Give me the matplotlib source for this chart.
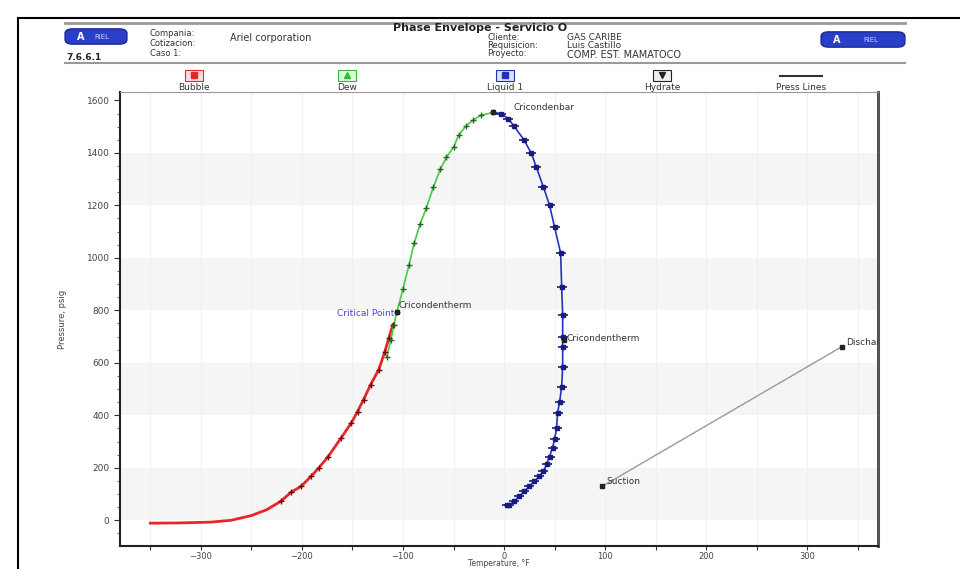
import matplotlib
matplotlib.use("Agg")
import matplotlib.pyplot as plt
from matplotlib.patches import Rectangle, FancyBboxPatch
from matplotlib.lines import Line2D

# ---------------- data ----------------
bubble_T = [-350, -320, -290, -270, -250, -235, -221, -211, -201, -191, -183, -174,
            -161, -151, -145, -139, -132, -124, -118, -114, -110]
bubble_P = [-11, -10, -7, 0, 18, 40, 72, 106, 129, 167, 201, 243,
            315, 372, 414, 460, 517, 574, 642, 695, 745]

dew_T = [-116, -112, -109, -106, -100, -94, -89, -83, -77, -70, -63, -57, -50, -45,
         -38, -31, -23, -11]
dew_P = [623, 688, 745, 794, 882, 973, 1056, 1129, 1189, 1269, 1338, 1383, 1421, 1467,
         1501, 1524, 1543, 1554]

liq_T = [-11, -3, 4, 10, 20, 27, 32, 39, 45, 50, 56, 57, 58, 58, 58, 58, 57, 55, 53,
         52, 50, 48, 45, 42, 39, 35, 30, 25, 20, 15, 10, 5, 3]
liq_P = [1554, 1550, 1531, 1501, 1448, 1398, 1345, 1269, 1201, 1117, 1018, 889, 783,
         699, 661, 585, 509, 452, 410, 353, 308, 277, 243, 213, 186, 167, 148, 129,
         110, 91, 72, 57, 57]

press_T = [97, 334]
press_P = [129, 661]

critical = (-106, 794)
cricondenbar = (-11, 1554)
cricondentherm = (59, 688)

xticks = [-300, -200, -100, 0, 100, 200, 300]
yticks = [0, 200, 400, 600, 800, 1000, 1200, 1400, 1600]

# ---------------- figure ----------------
W, H = 960, 569
fig = plt.figure(figsize=(W / 100, H / 100), dpi=100)
fig.patch.set_facecolor("white")


def fx(px):
    return px / W


def fy(py):
    return 1 - py / H


# outer border
fig.add_artist(Line2D([fx(18), fx(18)], [fy(18), fy(569)], color="black", lw=1.5))
fig.add_artist(Line2D([fx(18), fx(960)], [fy(18), fy(18)], color="black", lw=1.5))

# header lines
fig.add_artist(Line2D([fx(65), fx(905)], [fy(23), fy(23)], color="#999999", lw=2))
fig.add_artist(Line2D([fx(65), fx(905)], [fy(63), fy(63)], color="#999999", lw=1.5))

# logos
for (lx, ly, w) in [(67, 30, 58), (823, 33, 80)]:
    fig.add_artist(FancyBboxPatch((fx(lx), fy(ly + 13)), fx(w), 13 / H,
                                  boxstyle="round,pad=0.002,rounding_size=0.008",
                                  fc="#2a3fc8", ec="#1a2a90", lw=1))
    fig.text(fx(lx + 14), fy(ly + 7), "A", color="white", fontsize=7,
             fontweight="bold", ha="center", va="center")
    fig.text(fx(lx + w * 0.6), fy(ly + 7), "RIEL", color="#c8d0ff", fontsize=5,
             ha="center", va="center")

hdr = dict(fontsize=6, color="#333333", va="center")
fig.text(fx(66), fy(57), "7.6.6.1", fontsize=6.5, fontweight="bold", color="#222222", va="center")
fig.text(fx(150), fy(34), "Compania:", **hdr)
fig.text(fx(150), fy(44), "Cotizacion:", **hdr)
fig.text(fx(150), fy(54), "Caso 1:", **hdr)
fig.text(fx(230), fy(38), "Ariel corporation", fontsize=7, color="#333333", va="center")
fig.text(fx(480), fy(28), "Phase Envelope - Servicio O", fontsize=8, fontweight="bold",
         color="#222222", ha="center", va="center")
fig.text(fx(487), fy(38), "Cliente:", **hdr)
fig.text(fx(487), fy(46), "Requisicion:", **hdr)
fig.text(fx(487), fy(54), "Proyecto:", **hdr)
fig.text(fx(567), fy(38), "GAS CARIBE", fontsize=6.5, color="#333333", va="center")
fig.text(fx(567), fy(46), "Luis Castillo", fontsize=6.5, color="#333333", va="center")
fig.text(fx(567), fy(55), "COMP. EST. MAMATOCO", fontsize=7, color="#333333", va="center")

# legend row
legend_items = [
    (194, "Bubble", "#e8262a", "#ffdddd", "s"),
    (347, "Dew", "#33bb33", "#ddffdd", "^"),
    (505, "Liquid 1", "#2233bb", "#dde0ff", "s"),
    (662, "Hydrate", "#222222", "#eeeeee", "v"),
]
for (cx, lab, col, fc, mk) in legend_items:
    fig.add_artist(Rectangle((fx(cx - 9), fy(81)), fx(18), 11 / H, fc=fc, ec=col, lw=0.8))
    fig.add_artist(Line2D([fx(cx)], [fy(75)], marker=mk, color=col, ms=4, lw=0))
    fig.text(fx(cx), fy(87), lab, fontsize=6.5, color="#333333", ha="center", va="center")
fig.add_artist(Line2D([fx(780), fx(822)], [fy(76), fy(76)], color="#333333", lw=1.5))
fig.text(fx(801), fy(87), "Press Lines", fontsize=6.5, color="#333333", ha="center", va="center")

# ---------------- axes ----------------
top_px, bot_px = 92, 546
ax = fig.add_axes([fx(120), fy(bot_px), fx(878 - 120), (bot_px - top_px) / H])
ax.set_xlim(-380, 370)
ax.set_ylim(-98, 1632)

for lo in [0, 400, 800, 1200]:
    ax.axhspan(lo, lo + 200, color="#f5f5f5", zorder=0, lw=0)
for xv in range(-350, 371, 50):
    ax.axvline(xv, color="#f0f0f0", lw=0.8, zorder=0)

ax.plot(bubble_T, bubble_P, color="#e8262a", lw=2.0, zorder=3)
ax.plot(bubble_T[6:], bubble_P[6:], ls="none", marker="+", ms=4, mew=1,
        color="#6a1010", zorder=4)

ax.plot(dew_T, dew_P, color="#44cc44", lw=1.2, zorder=3)
ax.plot(dew_T, dew_P, ls="none", marker="+", ms=4, mew=1, color="#226622", zorder=4)

ax.plot(liq_T, liq_P, color="#2233bb", lw=1.2, zorder=3)
ax.plot(liq_T[1:], liq_P[1:], ls="none", marker="s", ms=3, color="#1a1a80", zorder=4)
ax.plot(liq_T[1:], liq_P[1:], ls="none", marker="_", ms=7, mew=1.2, color="#1a1a80", zorder=4)

ax.plot(press_T, press_P, color="#999999", lw=1, marker="s", ms=3, mfc="#222222",
        mec="#222222", zorder=3)

for pt in [critical, cricondentherm, cricondenbar]:
    ax.plot(*pt, marker="s", ms=3, color="#222222", zorder=5)

ann = dict(fontsize=6.5, color="#333333", va="center", zorder=6)
ax.text(cricondenbar[0] + 20, cricondenbar[1] + 20, "Cricondenbar", **ann)
ax.text(critical[0] + 2, critical[1] + 25, "Cricondentherm", **ann)
ax.text(critical[0] - 3, critical[1] - 5, "Critical Point", fontsize=6.5, color="#4444dd",
        ha="right", va="center", zorder=6)
ax.text(cricondentherm[0] + 3, cricondentherm[1] + 5, "Cricondentherm", **ann)
ax.text(press_T[0] + 4, press_P[0] + 20, "Suction", **ann)
ax.text(press_T[1] + 4, press_P[1] + 15, "Discharge", clip_on=True, **ann)

ax.set_xticks(xticks)
ax.set_xticks(range(-350, 371, 50), minor=True)
ax.set_yticks(yticks)
ax.set_yticks(range(-50, 1601, 50), minor=True)
ax.tick_params(axis="both", which="major", labelsize=6.5, labelcolor="#444444",
               length=4, color="#333333", width=0.8)
ax.tick_params(axis="x", which="major", pad=1, labelsize=6, length=3)
ax.tick_params(axis="x", which="minor", length=3, color="#333333", width=0.8)
ax.tick_params(axis="y", which="minor", length=2, color="#555555", width=0.6)

ax.set_xlabel("Temperature, °F", fontsize=5.5, color="#444444")
ax.xaxis.set_label_coords(0.5, -(564 - bot_px) / (bot_px - top_px))
ax.xaxis.label.set_va("center")
ax.set_ylabel("Pressure, psig", fontsize=6, color="#444444", labelpad=14)

for s in ["left", "bottom"]:
    ax.spines[s].set_linewidth(1.5)
    ax.spines[s].set_color("#222222")
ax.spines["right"].set_linewidth(2.2)
ax.spines["right"].set_color("#555555")
ax.spines["top"].set_linewidth(0.8)
ax.spines["top"].set_color("#999999")

fig.savefig("out.png", dpi=100, facecolor="white")
